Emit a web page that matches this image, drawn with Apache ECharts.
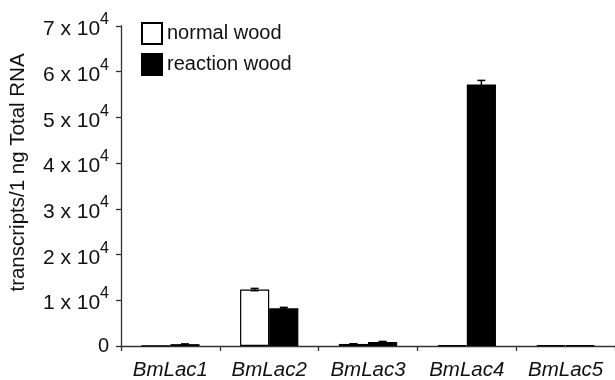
<!DOCTYPE html>
<html>
<head>
<meta charset="utf-8">
<script src="https://cdn.jsdelivr.net/npm/echarts@6/dist/echarts.min.js"></script>
<style>
html,body{margin:0;padding:0;background:#fff;}
#c{width:615px;height:380px;}
</style>
</head>
<body>
<div id="c"></div>
<script>
var categories = ['BmLac1', 'BmLac2', 'BmLac3', 'BmLac4', 'BmLac5'];
var normalWood = [60, 12350, 450, 200, 150];
var normalErr = [0, 250, 50, 0, 0];
var reactionWood = [400, 8250, 900, 57200, 150];
var reactionErr = [40, 200, 100, 900, 0];
var yTicks = [0, 10000, 20000, 30000, 40000, 50000, 60000, 70000];
var seriesNames = ['normal wood', 'reaction wood'];

var FONT = '"Liberation Sans", Arial, sans-serif';
var chart = echarts.init(document.getElementById('c'), null, {renderer: 'canvas'});

var BAR_GAP_CAT = 0.41;
function errData(vals, errs, idx) {
  return vals.map(function (v, i) { return [i, v, errs[i], idx]; });
}
function renderErr(params, api) {
  var ci = api.value(0), v = api.value(1), e = api.value(2), si = api.value(3);
  if (!e) return null;
  var catW = api.size([1, 0])[0];
  var barW = catW * (1 - BAR_GAP_CAT) / 2;
  var c = api.coord([ci, v]);
  var x = c[0] + (si === 0 ? -barW / 2 : barW / 2);
  var top = api.coord([ci, v + e])[1];
  var bot = api.coord([ci, v - e])[1];
  var cap = 4;
  var st = {stroke: '#000', lineWidth: 1.5};
  return {type: 'group', children: [
    {type: 'line', shape: {x1: x, y1: top, x2: x, y2: bot}, style: st},
    {type: 'line', shape: {x1: x - cap, y1: top, x2: x + cap, y2: top}, style: st},
    {type: 'line', shape: {x1: x - cap, y1: bot, x2: x + cap, y2: bot}, style: st}
  ]};
}

chart.setOption({
  animation: false,
  textStyle: {fontFamily: FONT},
  grid: {left: 118, right: -7, top: 26, bottom: 29, containLabel: false},
  legend: {
    data: seriesNames,
    orient: 'vertical',
    left: 141, top: 22,
    itemWidth: 20, itemHeight: 21, itemGap: 8,
    icon: 'rect',
    padding: 0,
    textStyle: {fontSize: 20, color: '#111', fontFamily: FONT, padding: [0, 0, 0, 0]}
  },
  xAxis: {
    type: 'category',
    data: categories,
    axisLine: {lineStyle: {color: '#333', width: 1.3}},
    axisTick: {show: true, length: 5, lineStyle: {color: '#333', width: 1.3}},
    axisLabel: {fontSize: 20.5, fontStyle: 'italic', color: '#111', margin: 14, fontFamily: FONT}
  },
  yAxis: {
    type: 'value',
    min: 0, max: 70000, interval: 10000,
    splitLine: {show: false},
    axisLine: {show: true, lineStyle: {color: '#333', width: 1.3}},
    axisTick: {show: true, length: 5, lineStyle: {color: '#333', width: 1.3}},
    name: 'transcripts/1 ng Total RNA',
    nameLocation: 'middle',
    nameGap: 92,
    nameTextStyle: {fontSize: 20.5, color: '#111', fontFamily: FONT, padding: [0, 0, 0, 27]},
    axisLabel: {
      margin: 12,
      color: '#111',
      fontFamily: FONT,
      fontSize: 20,
      formatter: function (v) {
        if (v === 0) return '0';
        return '{m|' + (v / 10000) + ' x 10}{s|4}';
      },
      rich: {
        m: {fontSize: 21, lineHeight: 20, padding: [6.8, 0, 0, 0], color: '#111', fontFamily: FONT},
        s: {fontSize: 16, lineHeight: 14, padding: [0, 0, 12.6, 0], color: '#111', fontFamily: FONT}
      }
    }
  },
  series: [
    {
      name: seriesNames[0], type: 'bar', data: normalWood,
      barGap: '0%', barCategoryGap: (BAR_GAP_CAT * 100) + '%',
      itemStyle: {color: '#fff', borderColor: '#000', borderWidth: 1.2}
    },
    {
      name: seriesNames[1], type: 'bar', data: reactionWood,
      barGap: '0%', barCategoryGap: (BAR_GAP_CAT * 100) + '%',
      itemStyle: {color: '#000', borderColor: '#000', borderWidth: 1.2}
    },
    {type: 'custom', name: 'err0', renderItem: renderErr, data: errData(normalWood, normalErr, 0), z: 5},
    {type: 'custom', name: 'err1', renderItem: renderErr, data: errData(reactionWood, reactionErr, 1), z: 5}
  ]
});
</script>
</body>
</html>
